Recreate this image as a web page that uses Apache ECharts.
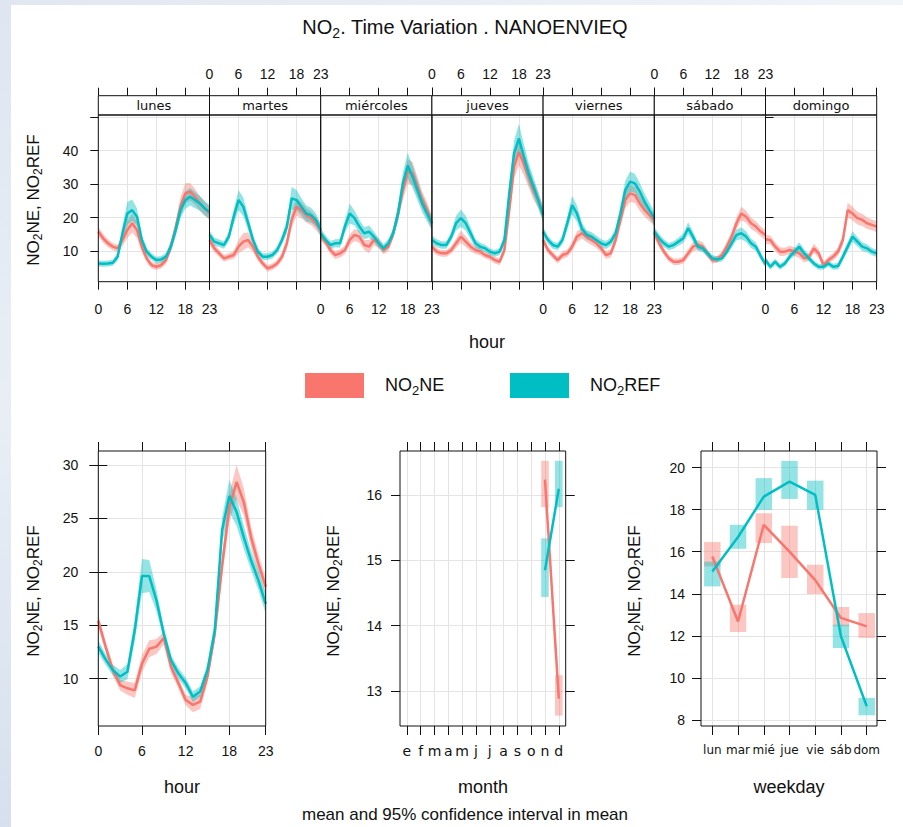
<!DOCTYPE html>
<html>
<head>
<meta charset="utf-8">
<script src="https://cdn.jsdelivr.net/npm/echarts@6/dist/echarts.min.js"></script>
<style>
html, body { margin: 0; padding: 0; background: #fff; }
#chart { width: 903px; height: 827px; }
</style>
</head>
<body>
<div id="chart"></div>
<script>
// ---------- data ----------
const days = ['lunes', 'martes', 'miércoles', 'jueves', 'viernes', 'sábado', 'domingo'];
const hours = [0,1,2,3,4,5,6,7,8,9,10,11,12,13,14,15,16,17,18,19,20,21,22,23];
const hourTicks = [0, 6, 12, 18, 23];
const dayHourTicksY = [10, 20, 30, 40, 50];
const dayHourLabelsY = [10, 20, 30, 40];

// hourly means per weekday (NO2NE) and half-width of the 95% interval
const lunesNE    = [15.8,13.8,12.3,11.3,10.8,13.3,16.3,18.3,16.3,11.3,7.8,5.8,5.3,5.8,7.3,11.3,16.8,23.2,27.2,27.7,26.2,24.2,22.7,21.2];
const lunesNEci  = [1.5,1.3,1.2,1.1,1.1,1.8,2.5,2.8,2.4,1.6,1.2,1.0,1.0,1.0,1.2,1.6,2.2,2.8,3.0,2.6,2.4,2.2,2.0,2.0];
const martesNE   = [13.3,10.8,9.3,7.8,8.3,8.8,11.3,12.8,13.3,11.3,8.3,6.3,4.8,5.3,6.3,8.3,12.3,19.3,23.2,22.2,20.7,19.8,18.3,16.3];
const martesNEci = [1.4,1.2,1.1,1.0,1.0,1.2,2.0,2.6,2.2,1.6,1.2,1.0,1.0,1.0,1.0,1.2,1.8,2.4,2.6,2.4,2.2,2.0,2.0,1.8];
const miercNE    = [14.5,12.8,10.3,8.8,9.3,10.3,13.3,14.8,14.3,11.8,11.3,13.3,12.3,10.3,11.3,15.3,21.2,28.2,33.7,33.2,29.2,25.2,22.2,18.3];
const miercNEci  = [1.4,1.2,1.2,1.2,1.2,1.3,1.6,1.8,1.8,1.5,2.0,1.6,1.4,1.3,1.4,1.6,2.4,3.0,3.6,3.4,3.0,2.6,2.4,2.0];
const juevesNE   = [11.3,9.8,9.3,9.3,10.3,12.3,14.3,12.8,11.3,10.3,9.8,8.8,8.3,7.3,6.8,10.3,22.2,35.2,39.5,36.2,32.2,28.2,25.2,21.2];
const juevesNEci = [1.2,1.1,1.0,1.0,1.1,1.4,1.8,1.6,1.4,1.2,1.1,1.0,1.0,1.0,1.0,1.4,2.4,3.4,4.0,3.6,3.2,2.8,2.4,2.2];
const viernesNE  = [13.3,10.3,8.8,7.3,8.8,9.3,11.3,14.3,15.3,14.3,13.3,12.3,10.8,8.8,9.3,13.3,19.3,25.2,27.2,26.7,24.2,22.2,20.7,19.3];
const viernesNEci= [1.3,1.1,1.0,1.0,1.1,1.1,1.4,1.6,1.6,1.6,1.5,1.4,1.2,1.1,1.2,1.5,2.0,2.4,2.6,2.4,2.2,2.0,1.8,1.8];
const sabadoNE   = [15.3,12.3,9.8,7.8,6.8,6.8,7.3,9.3,11.3,11.8,11.3,9.3,7.3,7.5,8.8,11.3,14.3,18.3,21.2,20.2,18.3,17.3,15.8,14.8];
const sabadoNEci = [1.4,1.2,1.1,1.0,1.0,1.0,1.0,1.2,1.4,1.5,1.4,1.2,1.0,1.0,1.1,1.4,1.6,1.8,2.0,1.8,1.7,1.6,1.5,1.5];
const domingoNE  = [13.5,13.3,11.3,9.8,9.8,10.3,9.8,9.3,7.8,8.3,10.8,9.3,5.8,7.3,8.3,9.8,13.3,22.2,21.2,19.8,19.3,18.3,17.8,17.3];
const domingoNEci= [1.4,1.3,1.3,1.3,1.2,1.3,1.3,1.4,1.2,1.2,1.4,1.3,1.0,1.0,1.1,1.3,1.6,2.2,2.0,1.9,1.8,1.7,1.6,1.6];

// hourly means per weekday (NO2REF) and half-width of the 95% interval
const lunesREF    = [6.3,6.2,6.3,6.5,8.3,15.3,21.2,22.2,20.2,13.3,9.8,8.3,7.3,7.5,8.3,11.3,16.3,22.2,25.2,26.2,25.2,24.2,22.7,21.7];
const lunesREFci  = [0.9,0.9,0.9,0.9,1.1,2.2,3.4,3.2,2.6,1.6,1.2,1.0,1.0,1.0,1.1,1.5,2.0,2.4,2.6,2.6,2.4,2.2,2.2,2.0];
const martesREF   = [14.8,12.8,12.3,11.8,14.3,20.2,25.2,23.2,18.3,13.3,9.8,8.3,8.3,8.8,10.3,13.3,17.3,25.7,25.2,23.2,21.2,20.7,19.3,16.3];
const martesREFci = [1.3,1.2,1.1,1.1,1.4,2.2,3.0,2.8,2.2,1.4,1.1,1.0,1.0,1.0,1.1,1.4,2.0,3.4,3.0,2.6,2.4,2.2,2.0,1.8];
const miercREF    = [15.3,13.3,11.8,12.3,12.3,17.3,21.2,19.8,17.3,15.3,15.8,14.3,12.3,10.8,12.3,15.3,21.2,30.2,35.5,32.2,28.2,24.2,21.2,18.3];
const miercREFci  = [1.5,1.4,1.2,1.2,1.3,1.8,3.0,2.2,2.0,1.8,1.8,1.6,1.4,1.3,1.3,1.6,2.4,3.2,3.8,3.4,3.0,2.6,2.4,2.0];
const juevesREF   = [13.3,12.3,11.8,11.8,14.3,18.3,19.8,18.3,15.3,12.3,11.3,10.8,9.8,9.3,9.8,13.3,27.2,39.2,43.6,38.2,33.2,29.2,25.2,20.7];
const juevesREFci = [1.3,1.2,1.1,1.1,1.4,2.2,2.6,2.2,1.8,1.3,1.2,1.1,1.0,1.0,1.1,1.6,2.8,3.8,4.4,3.8,3.2,2.8,2.4,2.2];
const viernesREF  = [15.8,13.3,11.8,11.3,13.3,18.3,23.7,21.2,16.8,14.8,14.3,13.3,12.3,11.8,12.8,15.3,21.2,28.2,30.7,30.2,27.7,24.7,22.2,19.8];
const viernesREFci= [1.4,1.2,1.1,1.1,1.3,2.0,2.8,2.4,1.8,1.4,1.4,1.3,1.2,1.2,1.3,1.6,2.2,2.8,3.0,2.8,2.6,2.4,2.2,2.0];
const sabadoREF   = [15.8,13.8,12.3,11.3,11.8,12.8,13.8,16.8,14.3,11.3,10.8,9.3,7.8,7.5,7.8,9.8,12.3,14.8,15.3,14.3,12.3,11.3,8.5,6.0];
const sabadoREFci = [1.4,1.3,1.2,1.1,1.1,1.2,1.4,1.8,1.5,1.2,1.1,1.0,1.0,0.9,0.9,1.1,1.4,1.6,1.8,1.6,1.4,1.3,1.2,1.0];
const domingoREF  = [7.3,5.3,6.8,5.3,6.3,8.3,9.8,11.3,9.3,7.8,6.3,5.3,5.3,6.3,5.3,5.5,8.3,11.3,14.3,12.8,11.3,10.8,9.8,9.3];
const domingoREFci= [1.0,0.9,0.9,0.9,0.9,1.0,1.2,1.3,1.2,1.0,0.9,0.9,0.9,0.9,0.9,1.0,1.2,1.4,1.6,1.4,1.3,1.2,1.1,1.1];

const dayNE    = [lunesNE, martesNE, miercNE, juevesNE, viernesNE, sabadoNE, domingoNE];
const dayNEci  = [lunesNEci, martesNEci, miercNEci, juevesNEci, viernesNEci, sabadoNEci, domingoNEci];
const dayREF   = [lunesREF, martesREF, miercREF, juevesREF, viernesREF, sabadoREF, domingoREF];
const dayREFci = [lunesREFci, martesREFci, miercREFci, juevesREFci, viernesREFci, sabadoREFci, domingoREFci];

// diurnal profile over all days
const hourNE    = [15.4,13.0,10.8,9.4,9.1,8.9,11.4,12.8,13.0,13.8,11.1,9.6,8.0,7.55,7.85,10.2,14.2,20.5,26.0,28.4,26.5,23.2,20.75,18.6];
const hourNEci  = [0.6,0.5,0.5,0.5,0.6,0.7,0.8,0.8,0.7,0.6,0.6,0.5,0.5,0.7,0.7,0.6,0.7,1.0,1.3,1.6,1.3,1.0,0.9,0.8];
const hourREF   = [13.0,11.8,10.8,10.2,10.65,14.5,19.6,19.6,17.3,14.2,11.7,10.5,9.6,8.3,8.8,10.8,14.5,23.85,27.1,25.6,23.2,21.05,19.2,17.0];
const hourREFci = [0.6,0.5,0.5,0.6,0.7,1.0,1.6,1.5,1.0,0.6,0.5,0.5,0.5,0.5,0.5,0.6,0.8,1.2,1.5,1.3,1.1,0.9,0.9,0.9];
const hourTicksY = [10, 15, 20, 25, 30];

// monthly means (only November and December present)
const monthLabels = ['e', 'f', 'm', 'a', 'm', 'j', 'j', 'a', 's', 'o', 'n', 'd'];
const monthNums   = [1, 2, 3, 4, 5, 6, 7, 8, 9, 10, 11, 12];
const monthsWithData = [11, 12];
const monthNE     = [16.24, 12.88];
const monthNElo   = [15.82, 12.62];
const monthNEhi   = [16.53, 13.24];
const monthREF    = [14.85, 16.10];
const monthREFlo  = [14.44, 15.82];
const monthREFhi  = [15.34, 16.53];
const monthTicksY = [13, 14, 15, 16];

// weekday means
const weekdayLabels = ['lun', 'mar', 'mié', 'jue', 'vie', 'sáb', 'dom'];
const weekdayNums   = [1, 2, 3, 4, 5, 6, 7];
const weekdayNE     = [15.77, 12.68, 17.28, 16.00, 14.65, 12.85, 12.45];
const weekdayNElo   = [15.30, 12.18, 16.41, 14.75, 13.99, 12.45, 11.90];
const weekdayNEhi   = [16.46, 13.48, 17.83, 17.23, 15.38, 13.37, 13.08];
const weekdayREF    = [15.06, 16.70, 18.62, 19.33, 18.70, 11.97, 8.65];
const weekdayREFlo  = [14.35, 16.14, 17.99, 18.51, 17.99, 11.42, 8.22];
const weekdayREFhi  = [15.53, 17.28, 19.50, 20.32, 19.38, 12.53, 9.05];
const weekdayTicksY = [8, 10, 12, 14, 16, 18, 20];

// ---------- styling ----------
const FONT = "'Liberation Sans', Arial, sans-serif";
const SMALL_FONT = "'DejaVu Sans', Verdana, sans-serif";
const RED = '#F8766D';
const TEAL = '#00BFC4';
const RED_BAND = 'rgba(248,118,109,0.42)';
const TEAL_BAND = 'rgba(0,191,196,0.42)';
const GRID_LINE = '#e4e4e4';
const INK = '#111';

// panel geometry
const DAY_LEFT = 98.3, DAY_W = 111.2, DAY_TOP = 115, DAY_H = 166.7, STRIP_H = 19.3;
const BOT_TOP = 451, BOT_H = 275;
const bottomPanels = [
  { left: 98.3, width: 167.4 },
  { left: 400, width: 165.7 },
  { left: 701, width: 176 }
];

function richSub(fs) {
  const sfs = Math.round(fs * 0.7);
  return {
    a: { fontSize: fs, fontFamily: FONT, color: INK, lineHeight: fs + 2 },
    s: { fontSize: sfs, fontFamily: FONT, color: INK, lineHeight: sfs, padding: [Math.round(fs * 0.6), 0, 0, 0] }
  };
}
const Y_TITLE = '{a|NO}{s|2}{a|NE, NO}{s|2}{a|REF}';

function tickStyle(show, values, len) {
  return { show: show, customValues: values, inside: false, length: len || 8, lineStyle: { color: INK, width: 1 } };
}
function labelStyle(show, values, margin, family, fmt, size) {
  const s = {
    show: show, customValues: values, margin: margin, fontSize: size || 14, fontFamily: family || FONT, color: INK,
    showMinLabel: true, showMaxLabel: true, hideOverlap: false
  };
  if (fmt) s.formatter = fmt;
  return s;
}

const grids = [], xAxes = [], yAxes = [], series = [], graphics = [];

// ---------- band / line / box helpers ----------
function bandSeries(xi, yi, xs, lo, hi, color) {
  return {
    type: 'custom', xAxisIndex: xi, yAxisIndex: yi, silent: true, clip: true,
    data: xs.map((x, k) => [x, lo[k], hi[k]]),
    renderItem: function (params, api) {
      if (params.dataIndex !== 0) return null;
      const pts = [];
      for (let k = 0; k < xs.length; k++) pts.push(api.coord([xs[k], hi[k]]));
      for (let k = xs.length - 1; k >= 0; k--) pts.push(api.coord([xs[k], lo[k]]));
      return { type: 'polygon', shape: { points: pts }, style: { fill: color } };
    }
  };
}
function lineSeries(xi, yi, xs, ys, color, width) {
  return {
    type: 'line', xAxisIndex: xi, yAxisIndex: yi, silent: true,
    data: xs.map((x, k) => [x, ys[k]]),
    showSymbol: false, symbol: 'none', animation: false,
    lineStyle: { color: color, width: width || 2.5 }
  };
}
function boxSeries(xi, yi, xs, lo, hi, color, boxW) {
  return {
    type: 'custom', xAxisIndex: xi, yAxisIndex: yi, silent: true,
    data: xs.map((x, k) => [x, lo[k], hi[k]]),
    renderItem: function (params, api) {
      const x = api.value(0);
      const top = api.coord([x, api.value(2)]);
      const bot = api.coord([x, api.value(1)]);
      const w = api.size([boxW, 0])[0];
      return { type: 'rect', shape: { x: top[0] - w / 2, y: top[1], width: w, height: bot[1] - top[1] }, style: { fill: color } };
    }
  };
}
function withCI(mean, ci, sign) {
  return mean.map((v, k) => v + sign * ci[k]);
}

// ---------- hour x day panels ----------
days.forEach((d, i) => {
  const left = DAY_LEFT + i * DAY_W;
  grids.push({ left: left, top: DAY_TOP, width: DAY_W, height: DAY_H, show: false });
  const xb = xAxes.length;
  xAxes.push({
    gridIndex: i, type: 'value', min: 0, max: 23, position: 'bottom',
    axisLine: { show: false },
    axisTick: tickStyle(true, hourTicks, 8),
    axisLabel: labelStyle(i % 2 === 0, hourTicks, 20),
    splitLine: { show: true, lineStyle: { color: GRID_LINE, width: 1 } }
  });
  xAxes.push({
    gridIndex: i, type: 'value', min: 0, max: 23, position: 'top', offset: STRIP_H,
    axisLine: { show: false },
    axisTick: tickStyle(true, hourTicks, 8),
    axisLabel: labelStyle(i % 2 === 1, hourTicks, 15),
    splitLine: { show: false }
  });
  const yi = yAxes.length;
  yAxes.push({
    gridIndex: i, type: 'value', min: 0.84, max: 50.6, position: i === 6 ? 'right' : 'left',
    axisLine: { show: false },
    axisTick: tickStyle(i === 0 || i === 6, dayHourTicksY, 8),
    axisLabel: labelStyle(i === 0, dayHourLabelsY, 20),
    splitLine: { show: true, lineStyle: { color: GRID_LINE, width: 1 } }
  });
  series.push(bandSeries(xb, yi, hours, withCI(dayNE[i], dayNEci[i], -1), withCI(dayNE[i], dayNEci[i], 1), RED_BAND));
  series.push(lineSeries(xb, yi, hours, dayNE[i], RED));
  series.push(bandSeries(xb, yi, hours, withCI(dayREF[i], dayREFci[i], -1), withCI(dayREF[i], dayREFci[i], 1), TEAL_BAND));
  series.push(lineSeries(xb, yi, hours, dayREF[i], TEAL));

  // strip with day name
  graphics.push({
    type: 'rect', z: 100, shape: { x: left, y: DAY_TOP - STRIP_H, width: DAY_W, height: STRIP_H },
    style: { fill: '#fff', stroke: INK, lineWidth: 1 }
  });
  graphics.push({
    type: 'text', z: 101, x: left + DAY_W / 2, y: DAY_TOP - STRIP_H / 2 + 0.5,
    style: { text: d, fill: INK, font: '13px ' + SMALL_FONT, textAlign: 'center', textVerticalAlign: 'middle', align: 'center', verticalAlign: 'middle' }
  });
  // panel frame
  graphics.push({
    type: 'rect', z: 100, shape: { x: left, y: DAY_TOP, width: DAY_W, height: DAY_H },
    style: { fill: 'none', stroke: INK, lineWidth: 1 }
  });
});

// ---------- bottom panels ----------
function bottomPanel(p, xMin, xMax, xTicks, xFmt, xFont, xSize, yMin, yMax, yTicks, yMargin) {
  const gi = grids.length;
  grids.push({ left: p.left, top: BOT_TOP, width: p.width, height: BOT_H, show: false });
  const xb = xAxes.length;
  xAxes.push({
    gridIndex: gi, type: 'value', min: xMin, max: xMax, position: 'bottom',
    axisLine: { show: false },
    axisTick: tickStyle(true, xTicks, 9),
    axisLabel: labelStyle(true, xTicks, 18, xFont, xFmt, xSize),
    splitLine: { show: true, lineStyle: { color: GRID_LINE, width: 1 } }
  });
  xAxes.push({
    gridIndex: gi, type: 'value', min: xMin, max: xMax, position: 'top',
    axisLine: { show: false }, axisTick: tickStyle(true, xTicks, 9),
    axisLabel: { show: false }, splitLine: { show: false }
  });
  const yl = yAxes.length;
  yAxes.push({
    gridIndex: gi, type: 'value', min: yMin, max: yMax, position: 'left',
    axisLine: { show: false }, axisTick: tickStyle(true, yTicks, 9),
    axisLabel: labelStyle(true, yTicks, yMargin),
    splitLine: { show: true, lineStyle: { color: GRID_LINE, width: 1 } }
  });
  yAxes.push({
    gridIndex: gi, type: 'value', min: yMin, max: yMax, position: 'right',
    axisLine: { show: false }, axisTick: tickStyle(true, yTicks, 9),
    axisLabel: { show: false }, splitLine: { show: false }
  });
  graphics.push({
    type: 'rect', z: 100, shape: { x: p.left, y: BOT_TOP, width: p.width, height: BOT_H },
    style: { fill: 'none', stroke: INK, lineWidth: 1 }
  });
  return { xi: xb, yi: yl };
}

// hour panel
const hp = bottomPanel(bottomPanels[0], 0, 23, hourTicks, null, FONT, 14, 5.57, 31.3, hourTicksY, 20);
series.push(bandSeries(hp.xi, hp.yi, hours, withCI(hourNE, hourNEci, -1), withCI(hourNE, hourNEci, 1), RED_BAND));
series.push(lineSeries(hp.xi, hp.yi, hours, hourNE, RED));
series.push(bandSeries(hp.xi, hp.yi, hours, withCI(hourREF, hourREFci, -1), withCI(hourREF, hourREFci, 1), TEAL_BAND));
series.push(lineSeries(hp.xi, hp.yi, hours, hourREF, TEAL));

// month panel
const mp = bottomPanel(bottomPanels[1], 0.5, 12.5, monthNums, v => monthLabels[v - 1], SMALL_FONT, 14, 12.46, 16.68, monthTicksY, 18);
series.push(boxSeries(mp.xi, mp.yi, monthsWithData, monthNElo, monthNEhi, RED_BAND, 0.55));
series.push(lineSeries(mp.xi, mp.yi, monthsWithData, monthNE, RED));
series.push(boxSeries(mp.xi, mp.yi, monthsWithData, monthREFlo, monthREFhi, TEAL_BAND, 0.55));
series.push(lineSeries(mp.xi, mp.yi, monthsWithData, monthREF, TEAL));

// weekday panel
const wp = bottomPanel(bottomPanels[2], 0.56, 7.4, weekdayNums, v => weekdayLabels[v - 1], SMALL_FONT, 12, 7.71, 20.79, weekdayTicksY, 16);
series.push(boxSeries(wp.xi, wp.yi, weekdayNums, weekdayNElo, weekdayNEhi, RED_BAND, 0.64));
series.push(lineSeries(wp.xi, wp.yi, weekdayNums, weekdayNE, RED));
series.push(boxSeries(wp.xi, wp.yi, weekdayNums, weekdayREFlo, weekdayREFhi, TEAL_BAND, 0.64));
series.push(lineSeries(wp.xi, wp.yi, weekdayNums, weekdayREF, TEAL));

// ---------- texts, legend, page edge ----------
function textEl(x, y, text, fs, rotate, rich, align) {
  const a = align || 'center';
  const st = {
    text: text, fill: INK, textAlign: a, textVerticalAlign: 'middle', align: a, verticalAlign: 'middle'
  };
  if (rich) st.rich = richSub(fs); else st.font = fs + 'px ' + FONT;
  const el = { type: 'text', z: 110, x: x, y: y, style: st };
  if (rotate) el.rotation = Math.PI / 2;
  return el;
}

graphics.unshift({
  type: 'rect', z: -10, shape: { x: 0, y: 0, width: 11, height: 827 },
  style: { fill: new echarts.graphic.LinearGradient(0, 0, 0, 1, [
    { offset: 0, color: '#dfe6f1' }, { offset: 0.5, color: '#e9eef6' }, { offset: 1, color: '#d6e0ee' }
  ]) }
});
graphics.unshift({
  type: 'rect', z: -10, shape: { x: 0, y: 0, width: 903, height: 5 },
  style: { fill: new echarts.graphic.LinearGradient(0, 0, 1, 0, [
    { offset: 0, color: '#e1e7f1' }, { offset: 1, color: '#f1f4f9' }
  ]) }
});

graphics.push(textEl(465, 27, '{a|NO}{s|2}{a|. Time Variation . NANOENVIEQ}', 20, false, true));
graphics.push(textEl(33, 200, Y_TITLE, 17, true, true));
graphics.push(textEl(487, 342, 'hour', 18));
graphics.push(textEl(33, 591, Y_TITLE, 17, true, true));
graphics.push(textEl(333, 591, Y_TITLE, 17, true, true));
graphics.push(textEl(634, 591, Y_TITLE, 17, true, true));
graphics.push(textEl(182, 787, 'hour', 18));
graphics.push(textEl(483, 787, 'month', 18));
graphics.push(textEl(789, 787, 'weekday', 18));
graphics.push(textEl(465, 814, 'mean and 95% confidence interval in mean', 17));

// legend keys
graphics.push({ type: 'rect', z: 110, shape: { x: 305, y: 373, width: 59, height: 25 }, style: { fill: RED } });
graphics.push({ type: 'rect', z: 110, shape: { x: 510, y: 373, width: 59, height: 25 }, style: { fill: TEAL } });
graphics.push(textEl(385, 385, '{a|NO}{s|2}{a|NE}', 18, false, true, 'left'));
graphics.push(textEl(590, 385, '{a|NO}{s|2}{a|REF}', 18, false, true, 'left'));

const chart = echarts.init(document.getElementById('chart'), null, { renderer: 'svg' });
chart.setOption({
  backgroundColor: '#fff',
  animation: false,
  grid: grids,
  xAxis: xAxes,
  yAxis: yAxes,
  series: series,
  graphic: { elements: graphics }
});
</script>
</body>
</html>
